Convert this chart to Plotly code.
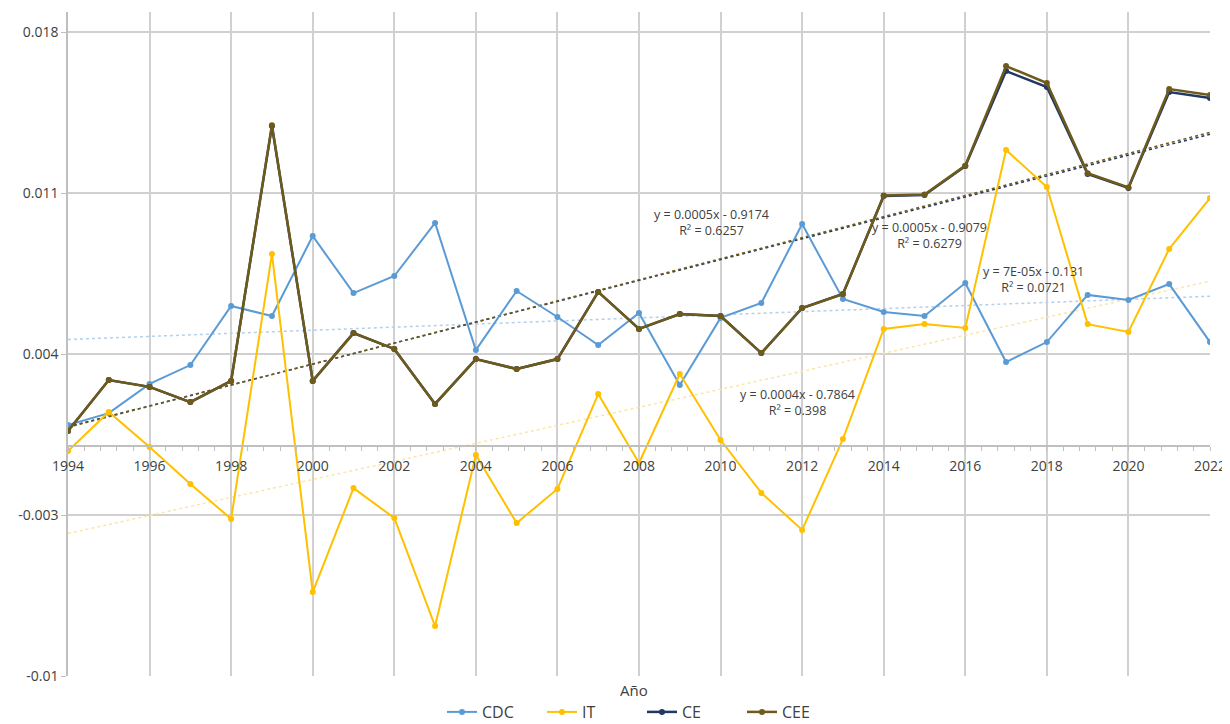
import numpy as np
import plotly.graph_objects as go

years = list(range(1994, 2023))
cdc = [0.00091, 0.00143, 0.0027, 0.00352, 0.00609, 0.00565, 0.00913, 0.00665, 0.00739, 0.0097,
       0.00417, 0.00674, 0.00561, 0.00439, 0.00578, 0.00265, 0.00557, 0.00622, 0.00965, 0.00639,
       0.00583, 0.00565, 0.00709, 0.00365, 0.00452, 0.00657, 0.00635, 0.00704, 0.00452]
it = [-0.00022, 0.00148, -0.00004, -0.00165, -0.00317, 0.00835, -0.00635, -0.00183, -0.00313, -0.00783,
      -0.00039, -0.00335, -0.00187, 0.00226, -0.00074, 0.00313, 0.00026, -0.00204, -0.00365, 0.0003,
      0.00509, 0.0053, 0.00513, 0.01287, 0.01126, 0.0053, 0.00496, 0.00857, 0.01078]
ce = [0.00065, 0.00287, 0.00257, 0.00191, 0.00283, 0.01391, 0.00283, 0.00491, 0.00422, 0.00183,
      0.00378, 0.00335, 0.00378, 0.0067, 0.00509, 0.00574, 0.00565, 0.00404, 0.006, 0.00661,
      0.01087, 0.01091, 0.01217, 0.0163, 0.01561, 0.01183, 0.01122, 0.01539, 0.01513]
cee = [0.00065, 0.00287, 0.00257, 0.00191, 0.00283, 0.01395, 0.00283, 0.00491, 0.00422, 0.00183,
       0.00378, 0.00335, 0.00378, 0.0067, 0.00509, 0.00574, 0.00565, 0.00404, 0.006, 0.00661,
       0.01089, 0.01093, 0.01219, 0.01652, 0.01578, 0.01186, 0.01124, 0.01552, 0.01526]

ytick_vals = [-0.01, -0.003, 0.004, 0.011, 0.018]
ytick_text = ["-0.01", "-0.003", "0.004", "0.011", "0.018"]
xtick_vals = list(range(1994, 2023, 2))

eq_texts = ["y = 0.0005x - 0.9174<br>R² = 0.6257",
            "y = 0.0005x - 0.9079<br>R² = 0.6279",
            "y = 7E-05x - 0.131<br>R² = 0.0721",
            "y = 0.0004x - 0.7864<br>R² = 0.398"]
eq_x = [2009.77, 2015.12, 2017.68, 2011.88]
eq_y = [0.0097, 0.00917, 0.00722, 0.00191]

series = [("CDC", cdc, "#5B9BD5", "#B4D0EC", 2),
          ("IT", it, "#FFC000", "#FBE6A6", 2),
          ("CE", ce, "#203864", "#203864", 2.5),
          ("CEE", cee, "#6E5B1C", "#6E5B1C", 2.5)]

FONT = "Open Sans"
fig = go.Figure()
yr = np.array(years, dtype=float)
for name, vals, col, tcol, lw in series:
    m, b = np.polyfit(yr, np.array(vals), 1)
    fig.add_trace(go.Scatter(x=[yr[0], yr[-1]], y=[m * yr[0] + b, m * yr[-1] + b], mode="lines",
                             line=dict(color=tcol, width=1.5, dash="dot"), showlegend=False,
                             hoverinfo="skip"))
for name, vals, col, tcol, lw in series:
    fig.add_trace(go.Scatter(x=years, y=vals, mode="lines+markers", name=name,
                             line=dict(color=col, width=lw),
                             marker=dict(color=col, size=6)))

for t, xx, yy in zip(eq_texts, eq_x, eq_y):
    fig.add_annotation(x=xx, y=yy, xref="x", yref="y", text=t, showarrow=False,
                       font=dict(size=12.5, color="#404040", family=FONT), align="center")

ymin, ymax = -0.01, 0.01887
zero_pos = (0 - ymin) / (ymax - ymin)

# page has an 8px body margin; figure is sized/offset to compensate
W, H = 1222, 716
L, R, T, B = 60, 20, 4, 48
ph = H - T - B

fig.update_layout(
    width=W, height=H,
    margin=dict(l=L, r=R, t=T, b=B, autoexpand=False),
    paper_bgcolor="white", plot_bgcolor="white",
    font=dict(family=FONT, size=14, color="#404040"),
    xaxis=dict(range=[1994, 2022], tickvals=xtick_vals, showgrid=True, gridcolor="#D0D0D0",
               gridwidth=1.5, showline=True, linecolor="#BFBFBF", linewidth=1.5,
               anchor="free", position=zero_pos, ticks="outside", ticklen=4, tickcolor="#BFBFBF",
               zeroline=False, ticklabelstandoff=3,
               minor=dict(tick0=1994, dtick=0.4, ticks="outside", ticklen=4, tickcolor="#BFBFBF",
                          showgrid=False),
               tickfont=dict(size=14, color="#404040")),
    yaxis=dict(range=[ymin, ymax], tickvals=ytick_vals, ticktext=ytick_text, showgrid=True,
               gridcolor="#D0D0D0", gridwidth=1.5, showline=True, linecolor="#BFBFBF", linewidth=1.5,
               ticks="outside", ticklen=5, tickcolor="#BFBFBF", zeroline=False,
               tickfont=dict(size=14, color="#404040")),
    legend=dict(orientation="h", x=(642 - 8 - L) / (W - L - R), xanchor="center",
                y=-(712 - 676) / ph, yanchor="middle",
                font=dict(size=16, color="#404040", family=FONT), entrywidth=55, itemwidth=30,
                tracegroupgap=0),
    showlegend=True,
)
fig.add_annotation(text="Año", xref="paper", yref="paper", x=(634 - 8 - L) / (W - L - R),
                   y=-(690 - 676) / ph, showarrow=False,
                   font=dict(size=15, color="#404040", family=FONT), yanchor="middle")

fig.write_html("out.html")
